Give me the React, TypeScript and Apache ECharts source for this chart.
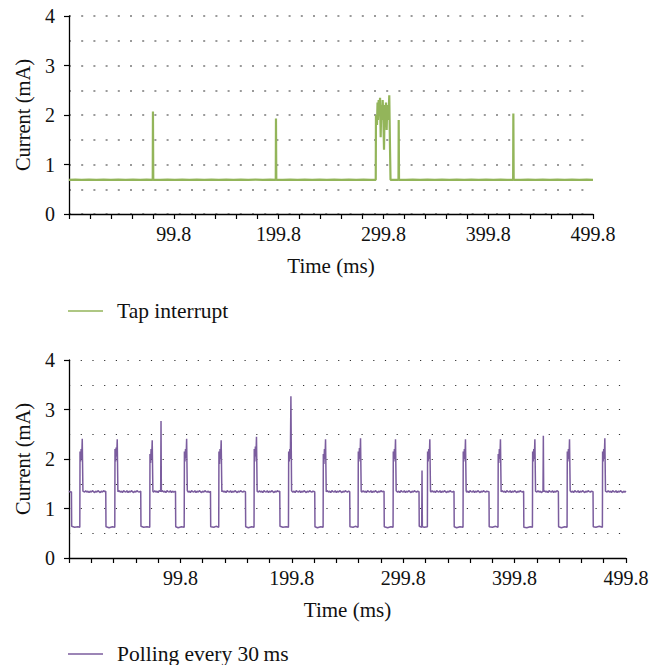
import React, { useEffect, useRef } from "react";
import * as echarts from "echarts";

// Time axis ticks (ms, axis domain 0..500, labelled as t - 0.2)
const xTickLabels = ["99.8", "199.8", "299.8", "399.8", "499.8"];
const yTicks = [0, 1, 2, 3, 4];

const tapName = "Tap interrupt";
const pollName = "Polling every 30\u2009ms";

// Top panel: tap interrupt current (mA) vs time (ms)
const tapInterrupt: [number, number][] = [
  [0, 0.69], [6, 0.695], [12, 0.688], [19, 0.694], [26, 0.69], [33, 0.696], [40, 0.688], [47, 0.694],
  [54, 0.69], [61, 0.695], [68, 0.688], [74, 0.694], [79.9, 0.69], [80.1, 2.07], [80.4, 0.69],
  [87, 0.688], [94, 0.695], [101, 0.69], [108, 0.696], [115, 0.688], [122, 0.694], [129, 0.69],
  [136, 0.695], [143, 0.688], [150, 0.694], [157, 0.69], [164, 0.696], [171, 0.688], [178, 0.694],
  [185, 0.69], [192, 0.695], [197.3, 0.69], [197.5, 1.93], [197.8, 0.69], [204, 0.688], [211, 0.694],
  [218, 0.69], [225, 0.696], [232, 0.688], [239, 0.694], [246, 0.69], [253, 0.695], [260, 0.688],
  [267, 0.694], [274, 0.69], [281, 0.696], [288, 0.688], [292.7, 0.69],
  [292.9, 2.0], [293.9, 1.8], [294.4, 2.25], [294.8, 1.9], [295.5, 2.3], [296.1, 2.0],
  [296.8, 2.35], [297.4, 1.55], [298.0, 2.2], [298.7, 1.9], [299.3, 2.3], [299.9, 2.0],
  [300.6, 1.3], [301.2, 2.2], [301.8, 1.9], [302.5, 2.25], [303.1, 1.7], [303.7, 2.2],
  [304.4, 1.9], [305.0, 2.0], [305.6, 2.4], [306.3, 1.33], [306.8, 0.69],
  [310, 0.688], [314.4, 0.69], [314.6, 1.9], [314.9, 0.69], [321, 0.688], [328, 0.694], [335, 0.69],
  [342, 0.696], [349, 0.688], [356, 0.694], [363, 0.69], [370, 0.695], [377, 0.688], [384, 0.694],
  [391, 0.69], [398, 0.696], [405, 0.688], [412, 0.694], [418, 0.69], [423.8, 0.69], [424.0, 2.03],
  [424.3, 0.69], [431, 0.688], [438, 0.694], [445, 0.69], [452, 0.696], [459, 0.688], [466, 0.694],
  [473, 0.69], [480, 0.695], [487, 0.688], [494, 0.694], [500, 0.69],
];

// Bottom panel: polling current (mA) vs time (ms)
const polling: [number, number][] = [
  [0, 1.35], [1.2, 1.33], [2.2, 1.34], [2.4, 0.64], [5, 0.62], [8, 0.63], [9.7, 0.62],
  [9.9, 2.15], [10.4, 1.95], [10.9, 2.2], [11.4, 2.0], [11.9, 2.41], [12.5, 1.35], [14, 1.33],
  [15, 1.36], [16, 1.33], [17, 1.35], [18, 1.32], [19, 1.35], [20, 1.33], [21, 1.36], [22, 1.34], [23, 1.32],
  [24, 1.35], [25, 1.33], [26, 1.36], [27, 1.34], [28, 1.32], [29, 1.35], [30, 1.33], [31, 1.36], [32, 1.34], [33.0, 1.35],
  [33.2, 0.63], [36, 0.61], [39, 0.63], [41.1, 0.62], [41.3, 2.2], [41.8, 1.95], [42.3, 2.23],
  [42.8, 2.05], [43.3, 2.4], [43.9, 1.34], [45, 1.36], [46, 1.33], [47, 1.35], [48, 1.32], [49, 1.36],
  [50, 1.34], [51, 1.33], [52, 1.36], [53, 1.32], [54, 1.35], [55, 1.33], [56, 1.36], [57, 1.34],
  [58, 1.32], [59, 1.35], [60, 1.33], [61, 1.36], [62, 1.34], [63, 1.33], [64.4, 1.35],
  [64.6, 0.64], [67, 0.62], [70, 0.63], [72.5, 0.62], [72.7, 2.1], [73.2, 1.92], [73.7, 2.2],
  [74.2, 2.0], [74.7, 2.38], [75.3, 1.35], [76, 1.33], [77, 1.36], [78, 1.33], [79, 1.35], [80, 1.32],
  [81, 1.36], [82.3, 1.35], [82.6, 2.77], [82.9, 1.34], [84, 1.36], [85, 1.33], [86, 1.35],
  [87, 1.32], [88, 1.36], [89, 1.34], [90, 1.33], [91, 1.36], [92, 1.32], [93, 1.35], [94, 1.33], [95.6, 1.35],
  [95.8, 0.63], [98, 0.61], [101, 0.63], [103.4, 0.62], [103.6, 2.15], [104.1, 1.95],
  [104.6, 2.2], [105.1, 2.02], [105.6, 2.41], [106.2, 1.36], [107, 1.33], [108, 1.35], [109, 1.32],
  [110, 1.36], [111, 1.34], [112, 1.33], [113, 1.36], [114, 1.32], [115, 1.35], [116, 1.33],
  [117, 1.36], [118, 1.34], [119, 1.32], [120, 1.35], [121, 1.33], [122, 1.36], [123, 1.34],
  [124, 1.33], [125, 1.35], [126, 1.32], [127.0, 1.35],
  [127.2, 0.63], [130, 0.62], [132, 0.64], [134.4, 0.62], [134.6, 2.15], [135.1, 1.9],
  [135.6, 2.2], [136.1, 2.0], [136.6, 2.38], [137.2, 1.34], [138, 1.36], [139, 1.33], [140, 1.35],
  [141, 1.32], [142, 1.36], [143, 1.34], [144, 1.33], [145, 1.36], [146, 1.32], [147, 1.35],
  [148, 1.33], [149, 1.36], [150, 1.34], [151, 1.32], [152, 1.35], [153, 1.33], [154, 1.36],
  [155, 1.34], [156, 1.33], [157, 1.35], [158.4, 1.34],
  [158.6, 0.63], [161, 0.61], [164, 0.63], [166.1, 0.62], [166.3, 2.2], [166.8, 1.95],
  [167.3, 2.25], [167.8, 2.05], [168.3, 2.45], [168.9, 1.35], [170, 1.33], [171, 1.36], [172, 1.33],
  [173, 1.35], [174, 1.32], [175, 1.36], [176, 1.34], [177, 1.33], [178, 1.36], [179, 1.32],
  [180, 1.35], [181, 1.33], [182, 1.36], [183, 1.34], [184, 1.32], [185, 1.35], [186, 1.33],
  [187, 1.36], [188, 1.34], [189.2, 1.35],
  [189.4, 0.64], [192, 0.62], [195, 0.63], [197.0, 0.62], [197.2, 2.15], [197.7, 1.95],
  [198.2, 2.2], [198.7, 2.0], [199.2, 3.27], [199.8, 1.36], [201, 1.33], [202, 1.35], [203, 1.32],
  [204, 1.36], [205, 1.34], [206, 1.33], [207, 1.36], [208, 1.32], [209, 1.35], [210, 1.33],
  [211, 1.36], [212, 1.34], [213, 1.32], [214, 1.35], [215, 1.33], [216, 1.36], [217, 1.34],
  [218, 1.33], [219, 1.35], [220.6, 1.34],
  [220.8, 0.63], [223, 0.61], [226, 0.63], [228.1, 0.62], [228.3, 2.1], [228.8, 1.9],
  [229.3, 2.2], [229.8, 2.0], [230.3, 2.4], [230.9, 1.34], [232, 1.36], [233, 1.33], [234, 1.35],
  [235, 1.32], [236, 1.36], [237, 1.34], [238, 1.33], [239, 1.36], [240, 1.32], [241, 1.35],
  [242, 1.33], [243, 1.36], [244, 1.34], [245, 1.32], [246, 1.35], [247, 1.33], [248, 1.36],
  [249, 1.34], [250, 1.33], [251, 1.35], [252.0, 1.34],
  [252.2, 0.63], [255, 0.62], [257, 0.64], [259.5, 0.62], [259.7, 2.15], [260.2, 1.95],
  [260.7, 2.22], [261.2, 2.0], [261.7, 2.42], [262.3, 1.35], [263, 1.33], [264, 1.36], [265, 1.33],
  [266, 1.35], [267, 1.32], [268, 1.36], [269, 1.34], [270, 1.33], [271, 1.36], [272, 1.32],
  [273, 1.35], [274, 1.33], [275, 1.36], [276, 1.34], [277, 1.32], [278, 1.35], [279, 1.33],
  [280, 1.36], [281, 1.34], [282.8, 1.35],
  [283.0, 0.63], [286, 0.61], [289, 0.63], [290.9, 0.62], [291.1, 2.15], [291.6, 1.95],
  [292.1, 2.2], [292.6, 2.0], [293.1, 2.4], [293.7, 1.36], [295, 1.33], [296, 1.35], [297, 1.32],
  [298, 1.36], [299, 1.34], [300, 1.33], [301, 1.36], [302, 1.32], [303, 1.35], [304, 1.33],
  [305, 1.36], [306, 1.34], [307, 1.32], [308, 1.35], [309, 1.33], [310, 1.36], [311, 1.34],
  [312, 1.33], [313, 1.35], [314.2, 1.34],
  [314.4, 0.64], [316.6, 0.62], [316.9, 1.77], [317.2, 0.63], [319, 0.62], [321.7, 0.63],
  [321.9, 2.15], [322.4, 1.95], [322.9, 2.2], [323.4, 2.0], [323.9, 2.4], [324.5, 1.35],
  [325, 1.33], [326, 1.36], [327, 1.33], [328, 1.35], [329, 1.32], [330, 1.36], [331, 1.34],
  [332, 1.33], [333, 1.36], [334, 1.32], [335, 1.35], [336, 1.33], [337, 1.36], [338, 1.34],
  [339, 1.32], [340, 1.35], [341, 1.33], [342, 1.36], [343, 1.34], [344, 1.33], [345.6, 1.35],
  [345.8, 0.63], [348, 0.61], [351, 0.63], [353.7, 0.62], [353.9, 2.15], [354.4, 1.95],
  [354.9, 2.2], [355.4, 2.0], [355.9, 2.4], [356.5, 1.36], [357, 1.33], [358, 1.35], [359, 1.32],
  [360, 1.36], [361, 1.34], [362, 1.33], [363, 1.36], [364, 1.32], [365, 1.35], [366, 1.33],
  [367, 1.36], [368, 1.34], [369, 1.32], [370, 1.35], [371, 1.33], [372, 1.36], [373, 1.34],
  [374, 1.33], [375, 1.35], [377.0, 1.34],
  [377.2, 0.63], [380, 0.62], [383, 0.64], [385.1, 0.62], [385.3, 2.1], [385.8, 1.92],
  [386.3, 2.2], [386.8, 2.0], [387.3, 2.4], [387.9, 1.34], [389, 1.36], [390, 1.33], [391, 1.35],
  [392, 1.32], [393, 1.36], [394, 1.34], [395, 1.33], [396, 1.36], [397, 1.32], [398, 1.35],
  [399, 1.33], [400, 1.36], [401, 1.34], [402, 1.32], [403, 1.35], [404, 1.33], [405, 1.36],
  [406, 1.34], [407, 1.33], [408.1, 1.35],
  [408.3, 0.62], [411, 0.61], [414, 0.63], [416.0, 0.62], [416.2, 2.15], [416.7, 1.95],
  [417.2, 2.2], [417.7, 2.0], [418.2, 2.4], [418.8, 1.35], [420, 1.33], [421, 1.36], [422, 1.33],
  [423, 1.35], [424, 1.32], [425.5, 1.35], [425.8, 2.47], [426.1, 1.34], [427, 1.36], [428, 1.33],
  [429, 1.35], [430, 1.32], [431, 1.36], [432, 1.34], [433, 1.33], [434, 1.36], [435, 1.32],
  [436, 1.35], [437, 1.33], [438, 1.36], [439.3, 1.34],
  [439.5, 0.63], [442, 0.61], [445, 0.63], [447.1, 0.62], [447.3, 2.15], [447.8, 1.95],
  [448.3, 2.2], [448.8, 2.0], [449.3, 2.4], [449.9, 1.36], [451, 1.33], [452, 1.35], [453, 1.32],
  [454, 1.36], [455, 1.34], [456, 1.33], [457, 1.36], [458, 1.32], [459, 1.35], [460, 1.33],
  [461, 1.36], [462, 1.34], [463, 1.32], [464, 1.35], [465, 1.33], [466, 1.36], [467, 1.34],
  [468, 1.33], [469, 1.35], [470.4, 1.34],
  [470.6, 0.63], [473, 0.62], [476, 0.64], [478.8, 0.62], [479.0, 2.15], [479.5, 1.95],
  [480.0, 2.2], [480.5, 2.0], [481.0, 2.42], [481.6, 1.35], [483, 1.33], [484, 1.36], [485, 1.33],
  [486, 1.35], [487, 1.32], [488, 1.36], [489, 1.34], [490, 1.33], [491, 1.36], [492, 1.32],
  [493, 1.35], [494, 1.33], [495, 1.36], [496, 1.34], [497, 1.32], [498, 1.35], [499, 1.33], [500, 1.35],
];

const FONT = "Liberation Serif";
const GREEN = "#93b55a";
const PURPLE = "#7b5d9e";

function makeX(gridIndex: number) {
  return {
    type: "value",
    gridIndex,
    min: 0,
    max: 500,
    interval: 20,
    name: "Time (ms)",
    nameLocation: "middle",
    nameGap: 41,
    nameTextStyle: { fontFamily: FONT, fontSize: 21, color: "#111" },
    axisLine: { show: true, onZero: false, lineStyle: { color: "#000", width: 1.3 } },
    axisTick: { show: true, length: 5, lineStyle: { color: "#000", width: 1.2 } },
    axisLabel: {
      margin: 10,
      fontFamily: FONT,
      fontSize: 20,
      color: "#111",
      formatter: (v: number) =>
        v > 0 && v % 100 === 0 ? xTickLabels[v / 100 - 1] : "",
    },
    splitLine: { show: false },
  };
}

function makeY(gridIndex: number, dotColor: string, dotWidth: number, dash: number[]) {
  return {
    type: "value",
    gridIndex,
    min: yTicks[0],
    max: yTicks[yTicks.length - 1],
    interval: 1,
    name: "Current (mA)",
    nameLocation: "middle",
    nameGap: 36,
    nameTextStyle: { fontFamily: FONT, fontSize: 20.5, color: "#111" },
    axisLine: { show: true, lineStyle: { color: "#000", width: 1.3 } },
    axisTick: { show: true, length: 5, lineStyle: { color: "#000", width: 1.2 } },
    axisLabel: { margin: 14, fontFamily: FONT, fontSize: 20, color: "#111" },
    splitLine: { show: true, lineStyle: { color: dotColor, width: dotWidth, type: dash } },
    minorTick: { show: false, splitNumber: 2 },
    minorSplitLine: { show: true, lineStyle: { color: dotColor, width: dotWidth, type: dash } },
  };
}

const legendBase = {
  left: 68,
  padding: 0,
  icon: "rect",
  itemWidth: 35,
  itemHeight: 1.5,
  itemGap: 10,
  textStyle: { fontFamily: FONT, fontSize: 21.5, color: "#111", padding: [0, 0, 0, 9] },
};

export default function App() {
  const ref = useRef<HTMLDivElement>(null);
  useEffect(() => {
    if (!ref.current) return;
    const chart = echarts.init(ref.current, null, { renderer: "svg" });
    chart.setOption({
      animation: false,
      backgroundColor: "#fff",
      textStyle: { fontFamily: FONT },
      grid: [
        { left: 69, top: 16, width: 524, height: 198, containLabel: false },
        { left: 69, top: 360, width: 557, height: 198, containLabel: false },
      ],
      xAxis: [makeX(0), makeX(1)],
      yAxis: [
        makeY(0, "#9a9a9a", 2, [2, 10.2]),
        makeY(1, "#333", 1.2, [1.2, 10.5]),
      ],
      legend: [
        { ...legendBase, data: [tapName], top: 300 },
        { ...legendBase, data: [pollName], top: 643 },
      ],
      series: [
        {
          name: tapName,
          type: "line",
          xAxisIndex: 0,
          yAxisIndex: 0,
          data: tapInterrupt,
          symbol: "none",
          color: GREEN,
          lineStyle: { color: GREEN, width: 2.2 },
        },
        {
          name: pollName,
          type: "line",
          xAxisIndex: 1,
          yAxisIndex: 1,
          data: polling,
          symbol: "none",
          color: PURPLE,
          lineStyle: { color: PURPLE, width: 1.5 },
        },
      ],
    });
    return () => chart.dispose();
  }, []);
  return (
    <div
      ref={ref}
      style={{ position: "fixed", left: 0, top: 0, width: 661, height: 665, background: "#fff" }}
    />
  );
}
